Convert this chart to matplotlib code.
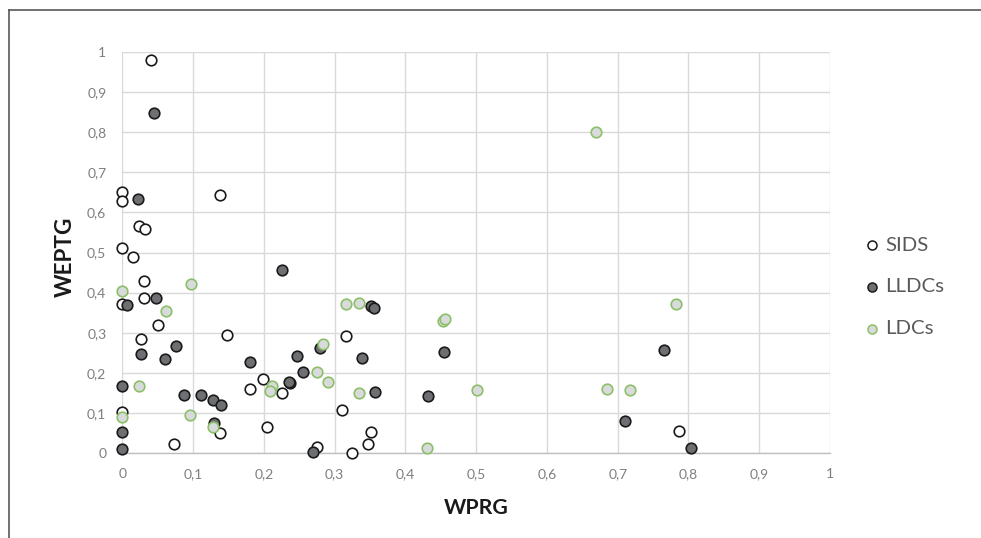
import matplotlib
matplotlib.use("Agg")
import matplotlib.pyplot as plt
from matplotlib.lines import Line2D

plt.rcParams['font.family'] = ['Lato', 'DejaVu Sans']

# SIDS
sids_x = [0.040, 0.000, 0.000, 0.138, 0.023, 0.032, 0.000, 0.015, 0.030, 0.000, 0.031,
          0.050, 0.148, 0.026, 0.199, 0.180, 0.225, 0.000, 0.138, 0.204, 0.073, 0.316,
          0.310, 0.352, 0.347, 0.275, 0.325, 0.786]
sids_y = [0.980, 0.651, 0.628, 0.643, 0.567, 0.558, 0.511, 0.490, 0.430, 0.371, 0.386,
          0.320, 0.294, 0.285, 0.185, 0.160, 0.150, 0.103, 0.050, 0.065, 0.023, 0.292,
          0.108, 0.053, 0.023, 0.014, 0.000, 0.056]

# LLDCs
lldc_x = [0.045, 0.022, 0.006, 0.048, 0.076, 0.027, 0.060, 0.226, 0.180, 0.247, 0.000,
          0.087, 0.111, 0.128, 0.139, 0.129, 0.000, 0.000, 0.237, 0.235, 0.256, 0.279,
          0.339, 0.352, 0.355, 0.357, 0.455, 0.432, 0.270, 0.765, 0.711, 0.803]
lldc_y = [0.848, 0.634, 0.368, 0.386, 0.268, 0.248, 0.235, 0.457, 0.227, 0.241, 0.168,
          0.145, 0.144, 0.132, 0.119, 0.075, 0.052, 0.010, 0.174, 0.178, 0.202, 0.263,
          0.238, 0.366, 0.361, 0.152, 0.253, 0.141, 0.002, 0.256, 0.081, 0.012]

# LDCs
ldc_x = [0.000, 0.097, 0.062, 0.024, 0.000, 0.095, 0.128, 0.212, 0.208, 0.316, 0.335,
         0.453, 0.456, 0.283, 0.275, 0.291, 0.335, 0.501, 0.430, 0.670, 0.783, 0.685,
         0.717]
ldc_y = [0.405, 0.421, 0.353, 0.168, 0.089, 0.096, 0.065, 0.168, 0.154, 0.371, 0.375,
         0.330, 0.334, 0.271, 0.203, 0.177, 0.149, 0.157, 0.012, 0.801, 0.371, 0.160,
         0.157]

series_names = ['SIDS', 'LLDCs', 'LDCs']
xticks = [0, 0.1, 0.2, 0.3, 0.4, 0.5, 0.6, 0.7, 0.8, 0.9, 1]

W, H = 981, 538
fig = plt.figure(figsize=(W / 100, H / 100), dpi=100)
ax = fig.add_axes([122.3 / W, 1 - 453 / H, (830 - 122.3) / W, (453 - 52) / H])

green = '#8cc068'
styles = [
    dict(facecolor='white', edgecolor='#1a1a1a'),
    dict(facecolor='#6e6f72', edgecolor='#1a1a1a'),
    dict(facecolor='#d9dadb', edgecolor=green),
]
for (xs, ys), st in zip([(sids_x, sids_y), (lldc_x, lldc_y), (ldc_x, ldc_y)], styles):
    ax.scatter(xs, ys, s=58, linewidths=1.2, zorder=3, clip_on=False, **st)

ax.set_xlim(0, 1)
ax.set_ylim(0, 1)
ax.set_xticks(xticks)
ax.set_yticks(xticks)
fmt = lambda v: ('%g' % v).replace('.', ',')
ax.set_xticklabels([fmt(v) for v in xticks])
ax.set_yticklabels([fmt(v) for v in xticks])
ax.tick_params(length=0, labelsize=10, labelcolor='#7f7f7f')
ax.tick_params(axis='x', pad=11)
ax.tick_params(axis='y', pad=11.5)
ax.grid(True, color='#d9d9d9', linewidth=1.0, zorder=0)
ax.set_axisbelow(True)
for sp in ['top', 'right', 'left']:
    ax.spines[sp].set_visible(False)
ax.spines['bottom'].set_color('#bfbfbf')
ax.spines['bottom'].set_linewidth(1.0)

renderer = fig.canvas.get_renderer()


def fit_width(t, target_px, horizontal=True):
    fs = t.get_fontsize()
    for _ in range(4):
        bb = t.get_window_extent(renderer)
        cur = bb.width if horizontal else bb.height
        fs = fs * target_px / cur
        t.set_fontsize(fs)


xl = fig.text(475.8 / W, 1 - 508 / H, 'WPRG', fontweight='bold', color='#1a1a1a',
              ha='center', va='center', fontsize=15)
fit_width(xl, 65)
yl = fig.text(65 / W, 1 - 256.5 / H, 'WEPTG', fontweight='bold', color='#1a1a1a',
              ha='center', va='center', rotation=90, fontsize=15)
fit_width(yl, 80, horizontal=False)

# legend (manually placed)
leg_y = [245, 287, 329]
lfs = 15
for name, st, yy in zip(series_names, styles, leg_y):
    fig.add_artist(Line2D([871.5 / W], [1 - yy / H], transform=fig.transFigure,
                          linestyle='none', marker='o', markersize=6.5, markeredgewidth=1.1,
                          markerfacecolor=st['facecolor'], markeredgecolor=st['edgecolor']))
    t = fig.text(885 / W, 1 - yy / H, name, color='#595959', ha='left', va='center',
                 fontsize=15)
    if name == 'LLDCs':
        fit_width(t, 59)
        lfs = t.get_fontsize()
for t in fig.texts:
    if t.get_text() in series_names:
        t.set_fontsize(lfs)

# outer chart border (top and left visible)
fig.add_artist(Line2D([9 / W, 9 / W], [0, 1 - 10 / H], transform=fig.transFigure,
                      color='#595959', linewidth=1.2))
fig.add_artist(Line2D([9 / W, 1], [1 - 10 / H, 1 - 10 / H], transform=fig.transFigure,
                      color='#595959', linewidth=1.2))

fig.savefig('out.png', dpi=100)
